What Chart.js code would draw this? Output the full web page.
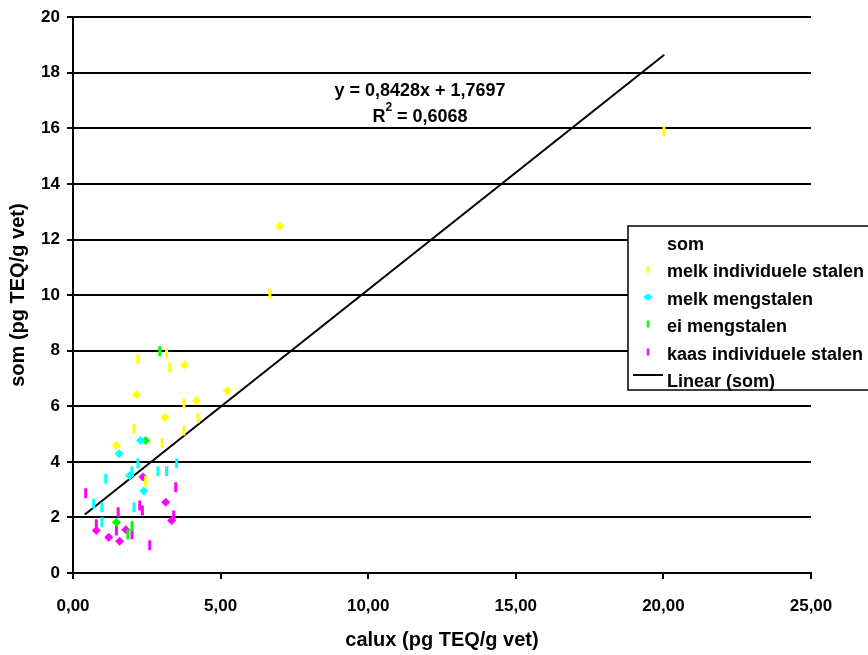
<!DOCTYPE html>
<html>
<head>
<meta charset="utf-8">
<script src="https://cdn.jsdelivr.net/npm/chart.js@4/dist/chart.umd.min.js"></script>
<style>
  html, body { margin: 0; padding: 0; background: #fff; }
</style>
</head>
<body>
<canvas id="calux-chart" width="868" height="655"></canvas>
<script>
// [calux, som] pairs
// melk individuele stalen (geel)
var melkIndDash = [[20.02, 15.9], [6.67, 10.05], [3.17, 7.9], [2.2, 7.7], [3.28, 7.4], [3.76, 6.11],
    [4.24, 5.58], [2.07, 5.19], [3.76, 5.13], [3.02, 4.68], [2.46, 3.31]];
var melkIndDiamond = [[7.01, 12.49], [3.78, 7.49], [2.15, 6.41], [4.18, 6.2], [3.11, 5.6], [1.47, 4.59], [5.23, 6.56]];
// melk mengstalen (cyaan)
var melkMengDash = [[2.2, 3.95], [3.51, 3.95], [2.88, 3.66], [3.17, 3.66], [2.0, 3.66], [1.11, 3.39],
    [0.7, 2.49], [0.98, 2.37], [2.07, 2.37], [0.98, 1.83]];
var melkMengDiamond = [[2.29, 4.77], [1.56, 4.29], [1.92, 3.51], [2.4, 2.95]];
// ei mengstalen (groen)
var eiDash = [[2.94, 7.98], [2.0, 1.68], [1.86, 1.39]];
var eiDiamond = [[2.46, 4.77], [1.47, 1.83]];
// kaas individuele stalen (magenta)
var kaasDash = [[0.43, 2.87], [3.48, 3.09], [2.26, 2.43], [2.35, 2.25], [1.53, 2.19], [3.41, 2.07],
    [0.79, 1.75], [1.47, 1.53], [2.0, 1.39], [2.6, 1.0]];
var kaasDiamond = [[2.37, 3.45], [3.14, 2.55], [3.34, 1.89], [0.79, 1.53], [1.79, 1.56], [1.21, 1.29], [1.58, 1.14]];

// Linear (som)
var trendSlope = 0.8428;
var trendIntercept = 1.7697;
var trendX = [0.4, 20.03];

var xTicks = [0, 5, 10, 15, 20, 25];
var yTicks = [0, 2, 4, 6, 8, 10, 12, 14, 16, 18, 20];
var legendLabels = ['som', 'melk individuele stalen', 'melk mengstalen', 'ei mengstalen', 'kaas individuele stalen', 'Linear (som)'];

var YELLOW = '#ffff00', CYAN = '#00ffff', GREEN = '#00ff00', MAGENTA = '#ff00ff';
var FONT = '"Liberation Sans", Arial, sans-serif';

function toPoints(arr) {
    return arr.map(function (p) { return { x: p[0], y: p[1] }; });
}

function dashSet(label, data, color) {
    return {
        label: label, data: toPoints(data), showLine: false,
        pointStyle: 'line', pointRotation: 90, pointRadius: 5, pointHoverRadius: 5,
        borderColor: color, pointBorderColor: color, pointBorderWidth: 3, pointHoverBorderWidth: 3
    };
}

function diamondSet(label, data, color) {
    return {
        label: label, data: toPoints(data), showLine: false,
        pointStyle: 'rectRot', pointRadius: 4.5, pointHoverRadius: 4.5,
        backgroundColor: color, pointBackgroundColor: color, pointBorderWidth: 0, borderColor: color
    };
}

var legendAndText = {
    id: 'legendAndText',
    afterDraw: function (chart) {
        var ctx = chart.ctx;
        ctx.save();
        // regression text
        ctx.fillStyle = '#000';
        ctx.textBaseline = 'middle';
        ctx.textAlign = 'center';
        ctx.font = 'bold 18px ' + FONT;
        ctx.fillText('y = 0,8428x + 1,7697', 420, 91);
        ctx.textAlign = 'left';
        var r = 'R', rest = ' = 0,6068';
        var wR = ctx.measureText(r).width, wRest = ctx.measureText(rest).width;
        ctx.font = 'bold 12px ' + FONT;
        var w2 = ctx.measureText('2').width;
        var x0 = 420 - (wR + w2 + wRest) / 2;
        ctx.font = 'bold 18px ' + FONT;
        ctx.fillText(r, x0, 117);
        ctx.fillText(rest, x0 + wR + w2, 117);
        ctx.font = 'bold 12px ' + FONT;
        ctx.fillText('2', x0 + wR, 108);

        // legend box
        ctx.fillStyle = '#fff';
        ctx.strokeStyle = '#000';
        ctx.lineWidth = 1.5;
        ctx.fillRect(628, 226, 250, 164);
        ctx.strokeRect(628, 226, 250, 164);
        ctx.fillStyle = '#000';
        ctx.font = 'bold 18px ' + FONT;
        var rowY = [245, 272.5, 300, 327, 355, 382];
        legendLabels.forEach(function (t, i) {
            ctx.fillText(t, 667, rowY[i]);
        });
        var dashColors = [YELLOW, null, GREEN, MAGENTA];
        ctx.lineWidth = 2.5;
        dashColors.forEach(function (c, i) {
            if (!c) return;
            var y = rowY[i + 1] - 3;
            ctx.strokeStyle = c;
            ctx.beginPath();
            ctx.moveTo(648, y - 3.5);
            ctx.lineTo(648, y + 3.5);
            ctx.stroke();
        });
        ctx.fillStyle = CYAN;
        ctx.beginPath();
        var cy = rowY[2] - 3;
        ctx.moveTo(643, cy); ctx.lineTo(648, cy - 3.5); ctx.lineTo(653, cy); ctx.lineTo(648, cy + 3.5);
        ctx.closePath();
        ctx.fill();
        ctx.strokeStyle = '#000';
        ctx.lineWidth = 2;
        ctx.beginPath();
        ctx.moveTo(633, 375);
        ctx.lineTo(663, 375);
        ctx.stroke();
        ctx.restore();
    }
};

function caluxChart() {
    var ctx = document.getElementById('calux-chart').getContext('2d');
    var myChart = new Chart(ctx, {
        type: 'scatter',
        data: {
            datasets: [
                dashSet('melk individuele stalen', melkIndDash, YELLOW),
                diamondSet('melk individuele stalen', melkIndDiamond, YELLOW),
                dashSet('melk mengstalen', melkMengDash, CYAN),
                diamondSet('melk mengstalen', melkMengDiamond, CYAN),
                dashSet('ei mengstalen', eiDash, GREEN),
                diamondSet('ei mengstalen', eiDiamond, GREEN),
                dashSet('kaas individuele stalen', kaasDash, MAGENTA),
                diamondSet('kaas individuele stalen', kaasDiamond, MAGENTA),
                {
                    label: 'Linear (som)',
                    data: trendX.map(function (x) { return { x: x, y: trendSlope * x + trendIntercept }; }),
                    showLine: true, pointRadius: 0, pointHoverRadius: 0,
                    borderColor: '#000', borderWidth: 2
                }
            ]
        },
        options: {
            responsive: false,
            devicePixelRatio: 1,
            animation: false,
            layout: { padding: { top: 16, right: 57, bottom: 0, left: 0 } },
            plugins: { legend: { display: false }, tooltip: { enabled: false } },
            scales: {
                x: {
                    type: 'linear', min: 0, max: 25,
                    afterBuildTicks: function (s) { s.ticks = xTicks.map(function (v) { return { value: v }; }); },
                    afterFit: function (s) { s.height = 82; },
                    ticks: {
                        color: '#000', padding: 17, font: { family: FONT, size: 17, weight: 'bold' },
                        callback: function (v) { return v.toFixed(2).replace('.', ','); }
                    },
                    grid: { drawOnChartArea: false, drawTicks: true, tickLength: 6, color: '#000', lineWidth: 2 },
                    border: { color: '#000', width: 2 },
                    title: {
                        display: true, text: 'calux (pg TEQ/g vet)', color: '#000',
                        font: { family: FONT, size: 20, weight: 'bold' }, padding: { top: 0, bottom: 3 }
                    }
                },
                y: {
                    type: 'linear', min: 0, max: 20,
                    afterBuildTicks: function (s) { s.ticks = yTicks.map(function (v) { return { value: v }; }); },
                    afterFit: function (s) { s.width = 73; },
                    ticks: { color: '#000', padding: 7, font: { family: FONT, size: 17, weight: 'bold' } },
                    grid: { color: '#000', lineWidth: 2, tickLength: 6 },
                    border: { color: '#000', width: 2 },
                    title: {
                        display: true, text: 'som (pg TEQ/g vet)', color: '#000',
                        font: { family: FONT, size: 20, weight: 'bold' }, padding: { top: 6, bottom: 0 }
                    }
                }
            }
        },
        plugins: [legendAndText]
    });
}

caluxChart();
</script>
</body>
</html>
